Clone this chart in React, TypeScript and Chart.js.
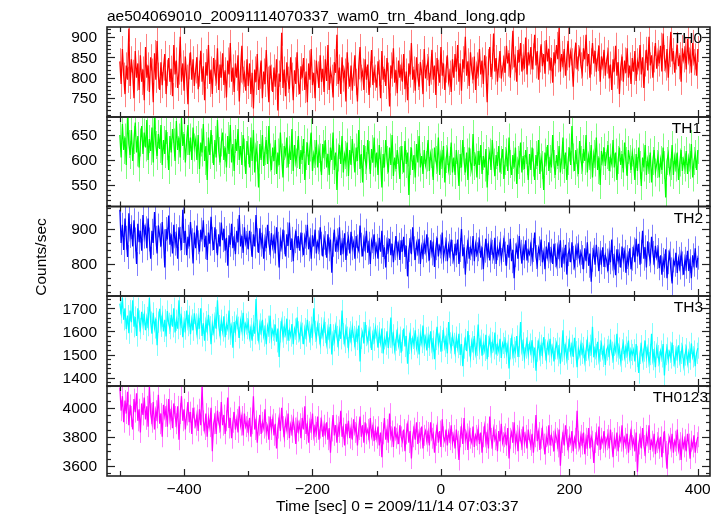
import React, { useEffect, useRef } from "react";
import { Chart, registerables } from "chart.js";

Chart.register(...registerables);

// ---- time grid (seconds relative to 2009/11/14 07:03:37) ----
const T0 = -500;
const DT = 2;

// ---- series values (counts/sec) ----
const TH0 = [
  840, 785, 870, 805, 760, 830, 795, 920, 780, 845, 812, 750, 865, 800, 835, 770, 855, 790, 820, 745,
  875, 800, 830, 765, 850, 815, 740, 860, 795, 890, 805, 770, 838, 782, 825, 858, 760, 812, 848, 790,
  822, 755, 880, 808, 842, 775, 815, 900, 790, 835, 768, 852, 800, 735, 828, 862, 795, 845, 780, 818,
  850, 772, 810, 866, 790, 828, 745, 838, 805, 880, 785, 820, 760, 848, 812, 795, 872, 770, 832, 800,
  860, 782, 818, 752, 842, 808, 885, 790, 825, 765, 835, 800, 855, 742, 820, 878, 795, 810, 768, 845,
  780, 835, 760, 812, 725, 820, 790, 858, 770, 805, 842, 750, 815, 785, 868, 795, 740, 830, 800, 765,
  825, 778, 845, 720, 810, 790, 910, 775, 820, 755, 838, 795, 772, 850, 805, 745, 818, 785, 862, 790,
  760, 828, 800, 848, 770, 815, 740, 835, 795, 870, 782, 812, 750, 842, 808, 775, 855, 790, 822, 765,
  845, 792, 880, 770, 818, 800, 752, 838, 812, 905, 785, 825, 760, 850, 798, 815, 742, 862, 805, 778,
  830, 768, 812, 855, 790, 742, 828, 875, 800, 815, 770, 845, 795, 832, 758, 808, 868, 782, 820, 800,
  776, 840, 812, 750, 865, 795, 822, 780, 848, 805, 730, 830, 810, 872, 788, 818, 762, 842, 800, 825,
  790, 858, 772, 815, 745, 835, 808, 885, 795, 820, 768, 850, 802, 778, 838, 812, 760, 870, 798, 826,
  842, 780, 815, 868, 795, 830, 758, 848, 812, 788, 875, 805, 835, 770, 820, 855, 790, 810, 765, 845,
  800, 858, 815, 880, 790, 835, 768, 845, 822, 900, 805, 840, 780, 862, 818, 795, 852, 770, 830, 812,
  870, 808, 842, 785, 855, 820, 740, 838, 875, 802, 828, 908, 815, 848, 790, 832, 865, 798, 822, 845,
  812, 878, 835, 860, 800, 852, 915, 825, 845, 790, 868, 838, 885, 815, 850, 822, 898, 808, 862, 840,
  875, 820, 852, 905, 830, 865, 795, 845, 882, 828, 858, 810, 892, 840, 870, 818, 848, 788, 862, 835,
  880, 845, 922, 815, 858, 832, 870, 805, 850, 890, 825, 862, 840, 778, 855, 885, 820, 848, 868, 830,
  812, 872, 845, 905, 828, 858, 800, 840, 885, 835, 865, 815, 848, 878, 790, 852, 830, 868, 805, 842,
  860, 798, 832, 770, 845, 815, 878, 805, 838, 760, 825, 852, 790, 842, 812, 872, 800, 830, 785, 848,
  815, 865, 792, 840, 825, 880, 808, 850, 775, 835, 868, 818, 900, 830, 855, 800, 845, 885, 822, 860,
  835, 878, 815, 908, 848, 825, 870, 800, 858, 912, 840, 865, 812, 852, 880, 828, 855, 790, 872, 845,
  868, 820, 895, 842, 860, 812, 885, 838, 852, 805, 870,
];

const TH1 = [
  650, 605, 672, 620, 645, 590, 688, 632, 610, 660, 598, 640, 675, 615, 648, 585, 635, 668, 612, 655,
  625, 680, 600, 642, 618, 665, 595, 690, 630, 608, 652, 622, 670, 590, 640, 612, 660, 628, 580, 648,
  615, 662, 635, 598, 678, 620, 645, 605, 685, 628, 652, 595, 638, 670, 610, 645, 600, 665, 625, 640,
  600, 650, 582, 635, 615, 672, 598, 628, 560, 645, 610, 660, 622, 590, 640, 605, 680, 618, 595, 635,
  655, 600, 625, 585, 648, 612, 670, 595, 632, 578, 642, 618, 662, 600, 628, 590, 650, 615, 572, 638,
  620, 585, 645, 598, 660, 575, 625, 610, 545, 632, 600, 650, 588, 618, 640, 592, 668, 605, 580, 625,
  598, 640, 572, 615, 590, 655, 605, 565, 628, 612, 645, 585, 620, 600, 662, 578, 630, 595, 612, 648,
  582, 620, 600, 642, 560, 608, 635, 590, 625, 655, 578, 612, 598, 640, 585, 622, 605, 570, 632, 610,
  640, 585, 612, 570, 625, 600, 655, 580, 615, 540, 605, 630, 592, 648, 575, 610, 595, 635, 568, 620,
  590, 642, 605, 575, 625, 598, 660, 582, 612, 555, 630, 600, 588, 640, 610, 572, 622, 595, 645, 585,
  615, 570, 630, 598, 545, 612, 585, 640, 600, 575, 625, 590, 650, 568, 605, 582, 620, 598, 562, 628,
  600, 575, 638, 592, 615, 530, 598, 625, 580, 610, 565, 632, 595, 648, 585, 608, 572, 620, 590, 605,
  640, 578, 612, 595, 560, 625, 600, 585, 645, 570, 610, 592, 628, 555, 602, 618, 580, 598, 635, 575,
  605, 570, 620, 592, 548, 612, 585, 640, 598, 575, 615, 560, 625, 595, 580, 652, 588, 605, 565, 618,
  590, 630, 572, 608, 585, 622, 545, 598, 615, 580, 640, 595, 568, 610, 588, 628, 575, 600, 622, 562,
  598, 615, 578, 645, 592, 570, 610, 585, 625, 552, 600, 590, 635, 575, 608, 582, 620, 598, 560, 612,
  580, 625, 595, 560, 610, 588, 640, 572, 605, 590, 540, 615, 598, 630, 578, 602, 585, 650, 592, 570,
  610, 588, 628, 575, 600, 645, 582, 615, 560, 598, 625, 590, 668, 605, 578, 620, 595, 572, 638, 600,
  585, 622, 598, 650, 575, 608, 590, 630, 565, 612, 595, 645, 580, 605, 550, 618, 598, 625, 588, 610,
  630, 578, 605, 592, 640, 585, 615, 560, 600, 625, 590, 612, 575, 635, 598, 568, 620, 602, 580, 615,
  595, 560, 612, 578, 625, 590, 548, 605, 585, 630, 570, 600, 582, 615, 555, 598, 620, 575, 592, 608,
  565, 600, 580, 625, 590, 525, 598, 612, 575, 588, 630, 570, 605, 585, 615, 560, 595, 620, 578, 600,
  585, 618, 572, 605, 590, 632, 565, 598, 612, 580, 620,
];

const TH2 = [
  955, 860, 912, 840, 930, 875, 820, 945, 880, 905, 850, 925, 870, 800, 915, 862, 895, 838, 940, 878,
  902, 845, 930, 870, 815, 895, 860, 948, 875, 830, 910, 882, 850, 920, 865, 790, 900, 870, 938, 855,
  885, 830, 912, 858, 880, 815, 905, 872, 840, 955, 860, 895, 825, 878, 850, 920, 868, 802, 890, 845,
  910, 862, 835, 898, 870, 925, 848, 880, 812, 890, 858, 935, 872, 840, 905, 865, 825, 885, 850, 918,
  868, 900, 838, 875, 795, 882, 855, 915, 845, 872, 828, 895, 862, 940, 850, 880, 832, 905, 860, 878,
  842, 895, 858, 820, 885, 850, 940, 868, 832, 902, 855, 878, 815, 870, 845, 912, 860, 835, 888, 850,
  875, 830, 905, 858, 790, 870, 848, 898, 862, 822, 885, 852, 918, 840, 872, 808, 865, 895, 845, 880,
  838, 890, 855, 825, 878, 860, 912, 842, 868, 815, 882, 850, 898, 830, 862, 845, 905, 858, 822, 875,
  860, 818, 885, 842, 870, 775, 855, 898, 835, 868, 848, 905, 825, 862, 840, 888, 812, 858, 875, 830,
  892, 845, 862, 815, 880, 850, 838, 910, 855, 822, 870, 845, 895, 832, 858, 800, 865, 848, 885, 828,
  852, 815, 875, 835, 895, 820, 848, 790, 862, 840, 872, 825, 858, 805, 845, 880, 830, 855, 812, 868,
  835, 878, 820, 852, 765, 840, 865, 828, 905, 845, 812, 858, 835, 872, 800, 848, 825, 862, 838, 885,
  842, 810, 868, 830, 855, 792, 845, 875, 822, 850, 835, 890, 818, 842, 862, 808, 852, 828, 870, 835,
  812, 858, 825, 870, 800, 840, 900, 822, 848, 770, 835, 862, 815, 845, 830, 880, 808, 855, 828, 842,
  865, 818, 848, 785, 838, 872, 825, 852, 810, 860, 835, 820, 875, 800, 845, 828, 858, 812, 840, 868,
  830, 795, 855, 818, 872, 808, 840, 760, 825, 850, 815, 880, 835, 802, 845, 822, 868, 810, 838, 828,
  855, 812, 840, 890, 820, 798, 845, 828, 870, 805, 832, 785, 850, 822, 862, 815, 838, 800, 858, 825,
  800, 848, 822, 868, 790, 835, 812, 855, 770, 828, 840, 805, 862, 818, 795, 845, 825, 850, 808, 832,
  820, 785, 845, 808, 862, 795, 830, 750, 812, 840, 798, 855, 815, 780, 832, 805, 848, 792, 825, 810,
  780, 832, 805, 870, 795, 818, 768, 842, 808, 825, 790, 850, 812, 835, 775, 820, 802, 845, 785, 815,
  842, 805, 872, 822, 858, 798, 835, 895, 815, 848, 790, 865, 828, 810, 878, 832, 805, 852, 820, 840,
  788, 825, 770, 812, 795, 842, 760, 805, 830, 785, 745, 810, 798, 832, 775, 815, 790, 828, 802, 770,
  815, 792, 838, 780, 808, 760, 825, 798, 845, 790, 818,
];

const TH3 = [
  1720, 1680, 1745, 1650, 1700, 1610, 1668, 1592, 1690, 1640, 1735, 1620, 1662, 1580, 1700, 1645, 1612, 1685, 1630, 1672,
  1605, 1660, 1625, 1745, 1640, 1590, 1680, 1615, 1655, 1540, 1640, 1698, 1622, 1665, 1600, 1650, 1578, 1688, 1635, 1612,
  1672, 1620, 1700, 1595, 1648, 1612, 1735, 1630, 1660, 1575, 1642, 1610, 1690, 1625, 1665, 1588, 1650, 1605, 1678, 1632,
  1590, 1655, 1612, 1700, 1580, 1635, 1560, 1642, 1605, 1672, 1620, 1545, 1630, 1598, 1660, 1612, 1735, 1625, 1585, 1648,
  1602, 1665, 1575, 1630, 1610, 1690, 1588, 1620, 1530, 1640, 1600, 1655, 1618, 1572, 1645, 1605, 1680, 1592, 1632, 1612,
  1640, 1575, 1612, 1560, 1625, 1590, 1740, 1605, 1565, 1632, 1598, 1650, 1580, 1610, 1545, 1622, 1595, 1668, 1570, 1605,
  1585, 1630, 1555, 1612, 1490, 1598, 1640, 1575, 1620, 1590, 1655, 1560, 1605, 1580, 1632, 1545, 1610, 1588, 1660, 1598,
  1570, 1625, 1592, 1545, 1612, 1580, 1650, 1598, 1565, 1618, 1585, 1700, 1600, 1572, 1628, 1590, 1548, 1615, 1582, 1640,
  1595, 1548, 1610, 1572, 1632, 1500, 1585, 1560, 1620, 1578, 1540, 1605, 1568, 1690, 1590, 1552, 1612, 1575, 1530, 1598,
  1560, 1618, 1578, 1540, 1600, 1565, 1625, 1470, 1570, 1595, 1548, 1640, 1582, 1555, 1605, 1575, 1520, 1590, 1562, 1615,
  1580, 1530, 1595, 1552, 1612, 1505, 1568, 1545, 1600, 1528, 1575, 1660, 1550, 1585, 1520, 1562, 1598, 1540, 1575, 1508,
  1560, 1612, 1535, 1580, 1460, 1548, 1590, 1525, 1570, 1545, 1605, 1530, 1565, 1500, 1585, 1552, 1625, 1540, 1572, 1518,
  1575, 1540, 1600, 1525, 1558, 1480, 1565, 1620, 1545, 1578, 1512, 1560, 1598, 1535, 1570, 1505, 1640, 1550, 1528, 1582,
  1548, 1510, 1575, 1530, 1590, 1498, 1545, 1450, 1528, 1565, 1515, 1602, 1538, 1490, 1555, 1522, 1580, 1505, 1540, 1630,
  1525, 1562, 1495, 1545, 1518, 1585, 1480, 1535, 1570, 1508, 1552, 1525, 1595, 1500, 1540, 1515, 1568, 1485, 1548, 1530,
  1558, 1505, 1540, 1440, 1525, 1568, 1498, 1530, 1512, 1580, 1490, 1535, 1640, 1518, 1550, 1485, 1528, 1560, 1500, 1545,
  1510, 1562, 1488, 1530, 1430, 1515, 1552, 1495, 1540, 1505, 1575, 1520, 1482, 1545, 1512, 1568, 1498, 1530, 1470, 1525,
  1548, 1495, 1528, 1460, 1515, 1605, 1500, 1535, 1480, 1522, 1558, 1505, 1540, 1490, 1572, 1512, 1445, 1525, 1498, 1545,
  1505, 1530, 1472, 1518, 1560, 1495, 1540, 1512, 1620, 1488, 1525, 1500, 1555, 1478, 1515, 1545, 1492, 1528, 1455, 1520,
  1535, 1498, 1565, 1510, 1482, 1540, 1515, 1590, 1502, 1528, 1470, 1520, 1548, 1490, 1532, 1505, 1560, 1485, 1518, 1500,
  1520, 1470, 1545, 1492, 1420, 1505, 1538, 1480, 1515, 1560, 1488, 1525, 1465, 1500, 1590, 1478, 1512, 1445, 1530, 1495,
  1468, 1515, 1490, 1545, 1410, 1500, 1528, 1475, 1510, 1485, 1552, 1495, 1462, 1520, 1488, 1540, 1470, 1505, 1530, 1455,
  1498, 1525, 1465, 1510, 1480, 1548, 1490, 1515, 1450, 1505, 1528,
];

const TH0123 = [
  4140, 3980, 4080, 3900, 4050, 3960, 4110, 3880, 4020, 3940, 3850, 4060, 3970, 4100, 3910, 3990, 3830, 4030, 3950, 4070,
  3920, 4010, 3870, 4150, 3960, 3900, 4040, 3850, 3980, 3930, 4090, 3890, 3960, 3800, 4020, 3940, 3990, 3870, 4060, 3920,
  3980, 3860, 4030, 3940, 3890, 4010, 3780, 3960, 4080, 3910, 3990, 3850, 3950, 4040, 3900, 3970, 3820, 4000, 3930, 3880,
  3950, 3840, 3990, 3880, 4150, 3910, 3850, 3960, 3800, 3930, 3870, 4000, 3700, 3890, 3940, 3820, 3980, 3900, 3860, 4040,
  3880, 3950, 3820, 3910, 4070, 3860, 3930, 3790, 3900, 3970, 3850, 3920, 3830, 4010, 3880, 3940, 3810, 3960, 3870, 3900,
  3840, 3930, 3800, 3890, 4080, 3850, 3910, 3760, 3880, 3950, 3820, 3900, 3860, 3990, 3830, 3870, 3780, 3940, 3850, 3920,
  3810, 3890, 3720, 3860, 3930, 3840, 4000, 3870, 3800, 3910, 3850, 3960, 3790, 3880, 3830, 3920, 3860, 3750, 3900, 3840,
  3890, 3790, 3930, 3850, 4010, 3820, 3880, 3760, 3900, 3850, 3960, 3810, 3870, 3830, 3940, 3780, 3860, 3910, 3800, 3880,
  3820, 3900, 3780, 3860, 3690, 3840, 3950, 3810, 3880, 3760, 3870, 3830, 3980, 3800, 3860, 3740, 3890, 3820, 3910, 3790,
  3860, 3780, 3920, 3830, 3870, 3740, 3850, 3940, 3800, 3880, 3760, 3900, 3820, 3850, 3790, 3930, 3810, 3870, 3770, 3850,
  3790, 3870, 3740, 3830, 3660, 3820, 3930, 3780, 3850, 3760, 3960, 3800, 3840, 3730, 3870, 3790, 3820, 3750, 3880, 3800,
  3770, 3850, 3700, 3820, 3880, 3760, 3840, 3650, 3800, 3860, 3780, 3900, 3750, 3830, 3790, 3870, 3720, 3810, 3840, 3770,
  3830, 3740, 3900, 3790, 3820, 3690, 3810, 3870, 3760, 3840, 3730, 3920, 3800, 3770, 3850, 3740, 3830, 3780, 3880, 3760,
  3810, 3720, 3850, 3770, 3640, 3800, 3860, 3750, 3930, 3780, 3820, 3710, 3840, 3790, 3760, 3870, 3730, 3810, 3780, 3850,
  3750, 3830, 3690, 3800, 3870, 3760, 3820, 3720, 3940, 3790, 3740, 3850, 3780, 3810, 3700, 3840, 3770, 3890, 3760, 3800,
  3820, 3740, 3860, 3650, 3790, 3830, 3760, 3900, 3750, 3810, 3700, 3840, 3780, 3740, 3870, 3760, 3810, 3720, 3850, 3780,
  3740, 3820, 3690, 3800, 3950, 3770, 3830, 3710, 3790, 3850, 3750, 3680, 3800, 3760, 3880, 3740, 3810, 3770, 3700, 3830,
  3790, 3730, 3850, 3600, 3760, 3820, 3740, 3880, 3780, 3720, 3800, 3760, 3840, 3700, 3790, 3750, 3980, 3770, 3730, 3810,
  3750, 3830, 3680, 3790, 3740, 3860, 3720, 3800, 3770, 3620, 3760, 3820, 3740, 3870, 3710, 3790, 3760, 3840, 3730, 3780,
  3810, 3720, 3850, 3760, 3660, 3790, 3740, 3830, 3700, 3800, 3770, 3880, 3730, 3790, 3750, 3820, 3690, 3780, 3840, 3740,
  3780, 3700, 3830, 3560, 3750, 3800, 3720, 3860, 3740, 3690, 3810, 3760, 3880, 3710, 3770, 3730, 3820, 3680, 3760, 3790,
  3720, 3800, 3660, 3760, 3840, 3700, 3580, 3750, 3790, 3730, 3820, 3690, 3770, 3740, 3850, 3710, 3760, 3640, 3790, 3730,
  3780, 3700, 3820, 3750, 3650, 3770, 3730, 3810, 3690, 3760, 3800,
];

// estimated 1-sigma error of each band (counts/sec)
const ERR = [32, 28, 34, 46, 72];

const SERIES = [TH0, TH1, TH2, TH3, TH0123];
const PANEL_LABELS = ["TH0", "TH1", "TH2", "TH3", "TH0123"];
const COLORS = ["#ff0000", "#00ff00", "#0000ff", "#00ffff", "#ff00ff"];
const ERR_COLORS = [
  "rgba(255,0,0,0.5)",
  "rgba(0,255,0,0.5)",
  "rgba(0,0,255,0.5)",
  "rgba(0,255,255,0.5)",
  "rgba(255,0,255,0.5)",
];
const Y_TICKS = [
  [750, 800, 850, 900],
  [550, 600, 650],
  [800, 900],
  [1400, 1500, 1600, 1700],
  [3600, 3800, 4000],
];
const Y_MINOR = [10, 10, 20, 20, 50];
const Y_MIN = [704, 507, 709, 1364, 3530];
const Y_MAX = [924, 686, 964, 1753, 4150];
const X_TICKS = [-400, -200, 0, 200, 400];
const X_MINOR = [-500, -300, -100, 100, 300];
const X_MIN = -520;
const X_MAX = 419;

const TITLE = "ae504069010_20091114070337_wam0_trn_4band_long.qdp";
const Y_TITLE = "Counts/sec";
const X_TITLE = "Time [sec] 0 = 2009/11/14 07:03:37";

// ---- layout ----
const W = 723;
const H = 516;
const PLOT_LEFT = 107;
const PLOT_RIGHT = 710;
const PANEL_EDGES = [27, 117, 206.5, 296, 386, 476];
const LABEL_RIGHT = [702, 701, 703, 703, 708];
const FONT = '15.5px "Liberation Sans", Arial, Helvetica, sans-serif';

function makePlugin(idx: number) {
  return {
    id: "qdpPanel" + idx,
    beforeDatasetsDraw(chart: any) {
      const { ctx, chartArea: a, scales } = chart;
      const xs = scales.x;
      const ys = scales.y;
      ctx.save();
      ctx.beginPath();
      ctx.rect(a.left, a.top, a.right - a.left, a.bottom - a.top);
      ctx.clip();
      ctx.strokeStyle = ERR_COLORS[idx];
      ctx.lineWidth = 1;
      const vals = SERIES[idx];
      ctx.beginPath();
      vals.forEach((v, i) => {
        const px = Math.round(xs.getPixelForValue(T0 + i * DT)) + 0.5;
        ctx.moveTo(px, ys.getPixelForValue(v - ERR[idx]));
        ctx.lineTo(px, ys.getPixelForValue(v + ERR[idx]));
      });
      ctx.stroke();
      ctx.restore();
    },
    afterDraw(chart: any) {
      const { ctx, chartArea: a, scales } = chart;
      const xs = scales.x;
      const ys = scales.y;
      const seg = (x1: number, y1: number, x2: number, y2: number) => {
        ctx.beginPath();
        ctx.moveTo(x1, y1);
        ctx.lineTo(x2, y2);
        ctx.stroke();
      };
      ctx.save();
      ctx.strokeStyle = "#222";
      ctx.lineWidth = 1.6;
      ctx.strokeRect(a.left, a.top, a.right - a.left, a.bottom - a.top);

      ctx.lineWidth = 1.2;
      const xt = [...X_TICKS.map((v) => [v, 7]), ...X_MINOR.map((v) => [v, 5])];
      xt.forEach(([v, len]) => {
        const px = Math.round(xs.getPixelForValue(v)) + 0.5;
        seg(px, a.top, px, a.top + len);
        seg(px, a.bottom, px, a.bottom - len);
      });
      const step = Y_MINOR[idx];
      const start = Math.ceil(Y_MIN[idx] / step) * step;
      for (let v = start; v <= Y_MAX[idx]; v += step) {
        const py = Math.round(ys.getPixelForValue(v)) + 0.5;
        const len = Y_TICKS[idx].includes(v) ? 8 : 4;
        seg(a.left, py, a.left + len, py);
        seg(a.right, py, a.right - len, py);
      }

      ctx.fillStyle = "#000";
      ctx.font = FONT;
      ctx.textAlign = "right";
      ctx.textBaseline = "middle";
      Y_TICKS[idx].forEach((v) => {
        ctx.fillText(String(v), 97, ys.getPixelForValue(v) + 1);
      });

      ctx.textBaseline = "alphabetic";
      ctx.fillText(PANEL_LABELS[idx], LABEL_RIGHT[idx], a.top + 16);

      if (idx === SERIES.length - 1) {
        ctx.textAlign = "center";
        X_TICKS.forEach((v) => {
          const lbl = v < 0 ? "\u2212" + String(-v) : String(v);
          ctx.fillText(lbl, xs.getPixelForValue(v), 493.5);
        });
        ctx.textAlign = "left";
        ctx.fillText(X_TITLE, 276, 511);
      }
      if (idx === 0) {
        ctx.textAlign = "left";
        ctx.fillText(TITLE, 107, 20.5);
        ctx.save();
        ctx.translate(45.5, 257);
        ctx.rotate(-Math.PI / 2);
        ctx.textAlign = "center";
        ctx.fillText(Y_TITLE, 0, 0);
        ctx.restore();
      }
      ctx.restore();
    },
  };
}

export default function App() {
  const refs = useRef<(HTMLCanvasElement | null)[]>([]);

  useEffect(() => {
    const charts: Chart[] = [];
    SERIES.forEach((vals, idx) => {
      const canvas = refs.current[idx];
      if (!canvas) return;
      const pts = vals.map((y, i) => ({ x: T0 + i * DT, y }));
      const top = PANEL_EDGES[idx];
      const bottom = PANEL_EDGES[idx + 1];
      const chart = new Chart(canvas, {
        type: "line",
        data: {
          datasets: [
            {
              label: PANEL_LABELS[idx],
              data: pts,
              borderColor: COLORS[idx],
              borderWidth: 1.25,
              pointRadius: 0,
              tension: 0,
            },
          ],
        },
        options: {
          responsive: false,
          animation: false,
          devicePixelRatio: 1,
          layout: {
            padding: {
              left: PLOT_LEFT,
              right: W - PLOT_RIGHT,
              top: top,
              bottom: H - bottom,
            },
          },
          scales: {
            x: { type: "linear", min: X_MIN, max: X_MAX, display: false },
            y: { type: "linear", min: Y_MIN[idx], max: Y_MAX[idx], display: false },
          },
          plugins: {
            legend: { display: false },
            tooltip: { enabled: false },
            title: { display: false },
          },
          events: [],
        },
        plugins: [makePlugin(idx)],
      });
      charts.push(chart);
    });
    return () => charts.forEach((c) => c.destroy());
  }, []);

  return (
    <div
      style={{
        position: "fixed",
        left: 0,
        top: 0,
        width: W,
        height: H,
        background: "#fff",
      }}
    >
      {SERIES.map((_, idx) => (
        <canvas
          key={idx}
          ref={(el) => {
            refs.current[idx] = el;
          }}
          width={W}
          height={H}
          style={{ position: "absolute", left: 0, top: 0, width: W, height: H }}
        />
      ))}
    </div>
  );
}
